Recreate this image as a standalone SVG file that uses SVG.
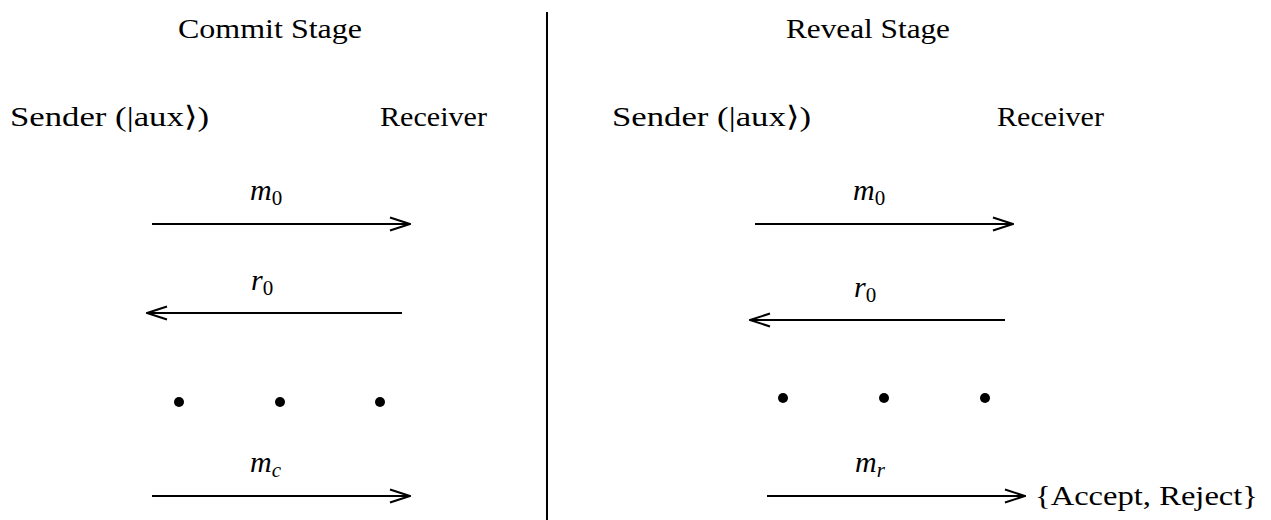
<svg xmlns="http://www.w3.org/2000/svg" width="1271" height="520" viewBox="0 0 1271 520">
<style>
text{font-family:"Liberation Serif","Times New Roman",serif;font-size:28px;fill:#000}
.m{font-style:italic;font-size:30px}
.s{font-style:normal;font-size:21px}
.si{font-style:italic;font-size:21px}
.ln{stroke:#000;stroke-width:2;fill:none}
</style>
<defs>
<marker id="ah" viewBox="0 0 22 16" refX="21" refY="8" markerWidth="22" markerHeight="16" markerUnits="userSpaceOnUse" orient="auto">
<path d="M1,1.5 L21,8 L1,14.5" fill="none" stroke="#000" stroke-width="2"/>
</marker>
</defs>
<rect width="1271" height="520" fill="#fff"/>
<line class="ln" x1="547" y1="12" x2="547" y2="520"/>
<g id="commit">
<text x="178" y="38" textLength="184" lengthAdjust="spacingAndGlyphs">Commit Stage</text>
<text x="10" y="126" textLength="199" lengthAdjust="spacingAndGlyphs">Sender  (|aux⟩)</text>
<text x="380" y="126" textLength="107" lengthAdjust="spacingAndGlyphs">Receiver</text>
</g>
<g id="reveal">
<text x="786" y="38" textLength="164" lengthAdjust="spacingAndGlyphs">Reveal Stage</text>
<text x="612" y="126" textLength="199" lengthAdjust="spacingAndGlyphs">Sender  (|aux⟩)</text>
<text x="997" y="126" textLength="107" lengthAdjust="spacingAndGlyphs">Receiver</text>
<text x="1035" y="505" textLength="223" lengthAdjust="spacingAndGlyphs">{Accept,  Reject}</text>
</g>
<g id="connectors">
<line class="ln" x1="152" y1="224" x2="410" y2="224" marker-end="url(#ah)"/>
<line class="ln" x1="402" y1="313" x2="147" y2="313" marker-end="url(#ah)"/>
<line class="ln" x1="152" y1="496" x2="410" y2="496" marker-end="url(#ah)"/>
<line class="ln" x1="755" y1="224" x2="1013" y2="224" marker-end="url(#ah)"/>
<line class="ln" x1="1005" y1="320" x2="750" y2="320" marker-end="url(#ah)"/>
<line class="ln" x1="767" y1="496" x2="1025" y2="496" marker-end="url(#ah)"/>
</g>
<g id="labels">
<text class="m" x="250" y="200">m<tspan class="s" dy="5">0</tspan></text>
<text class="m" x="251" y="290">r<tspan class="s" dy="5">0</tspan></text>
<text class="m" x="250" y="472">m<tspan class="si" dy="5">c</tspan></text>
<text class="m" x="853" y="200">m<tspan class="s" dy="5">0</tspan></text>
<text class="m" x="854" y="297">r<tspan class="s" dy="5">0</tspan></text>
<text class="m" x="855" y="472">m<tspan class="si" dy="5">r</tspan></text>
</g>
<g id="dots">
<circle cx="179" cy="402" r="5"/>
<circle cx="280" cy="402" r="5"/>
<circle cx="380" cy="402" r="5"/>
<circle cx="783" cy="398" r="5"/>
<circle cx="884" cy="398" r="5"/>
<circle cx="985" cy="398" r="5"/>
</g>
</svg>
